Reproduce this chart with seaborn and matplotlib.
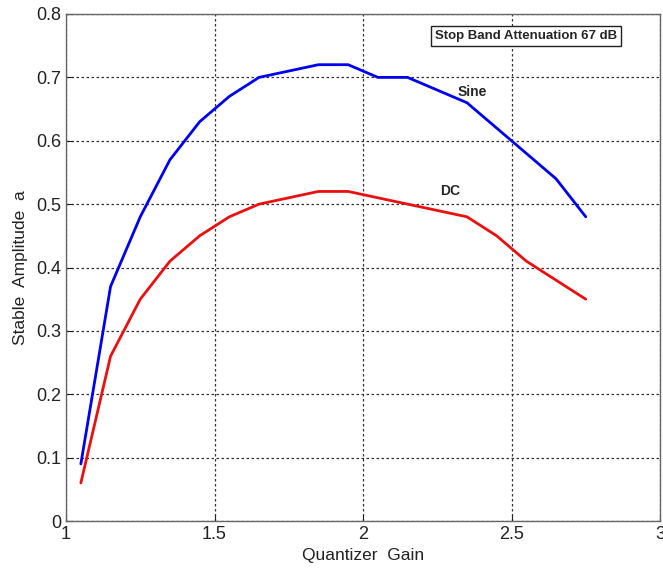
import matplotlib
matplotlib.use("Agg")
import matplotlib.pyplot as plt
import seaborn as sns
import pandas as pd

gain = [1.05, 1.15, 1.25, 1.35, 1.45, 1.55, 1.65, 1.75, 1.85, 1.95,
        2.05, 2.15, 2.25, 2.35, 2.45, 2.55, 2.65, 2.75]
sine = [0.09, 0.37, 0.48, 0.57, 0.63, 0.67, 0.70, 0.71, 0.72, 0.72,
        0.70, 0.70, 0.68, 0.66, 0.62, 0.58, 0.54, 0.48]
dc = [0.06, 0.26, 0.35, 0.41, 0.45, 0.48, 0.50, 0.51, 0.52, 0.52,
      0.51, 0.50, 0.49, 0.48, 0.45, 0.41, 0.38, 0.35]
xticks = [1, 1.5, 2, 2.5, 3]
xticklabels = ["1", "1.5", "2", "2.5", "3"]
yticks = [0, 0.1, 0.2, 0.3, 0.4, 0.5, 0.6, 0.7, 0.8]
yticklabels = ["0", "0.1", "0.2", "0.3", "0.4", "0.5", "0.6", "0.7", "0.8"]

sns.set_style("white")
plt.rcParams['font.family'] = ['Liberation Sans', 'DejaVu Sans']

df = pd.DataFrame({"gain": gain * 2, "amp": sine + dc,
                   "series": ["Sine"] * len(gain) + ["DC"] * len(gain)})

fig = plt.figure(figsize=(6.63, 5.77), dpi=100)
ax = fig.add_axes([66 / 663, 1 - 521 / 577, (660 - 66) / 663, (521 - 14) / 577])

sns.lineplot(data=df, x="gain", y="amp", hue="series",
             palette={"Sine": "#0000ee", "DC": "#e81010"},
             linewidth=2, legend=False, ax=ax, sort=False)

ax.set_xlim(1, 3)
ax.set_ylim(0, 0.8)
ax.set_xticks(xticks)
ax.set_xticklabels(xticklabels)
ax.set_yticks(yticks)
ax.set_yticklabels(yticklabels)
ax.grid(True, linestyle=(0, (2, 2)), color="#333333", linewidth=0.9)
ax.tick_params(direction="in", length=4, labelsize=13, colors="#222222",
               bottom=True, left=True)
for s in ax.spines.values():
    s.set_visible(True)
    s.set_color("#666666")
    s.set_linewidth(1.0)

ax.set_xlabel("Quantizer  Gain", fontsize=12.5, color="#222222", labelpad=4)
ax.set_ylabel("Stable  Amplitude  a", fontsize=12.5, color="#222222", labelpad=6)

ax.text(2.32, 0.677, "Sine", fontsize=10, fontweight="bold", ha="left", va="center")
ax.text(2.26, 0.52, "DC", fontsize=10, fontweight="bold", ha="left", va="center")
ax.text(2.55, 0.7655, "Stop Band Attenuation 67 dB", fontsize=9.5, fontweight="bold",
        ha="center", va="center",
        bbox=dict(boxstyle="square,pad=0.3", facecolor="white", edgecolor="#222222", linewidth=1))

fig.savefig("out.png", dpi=100)
